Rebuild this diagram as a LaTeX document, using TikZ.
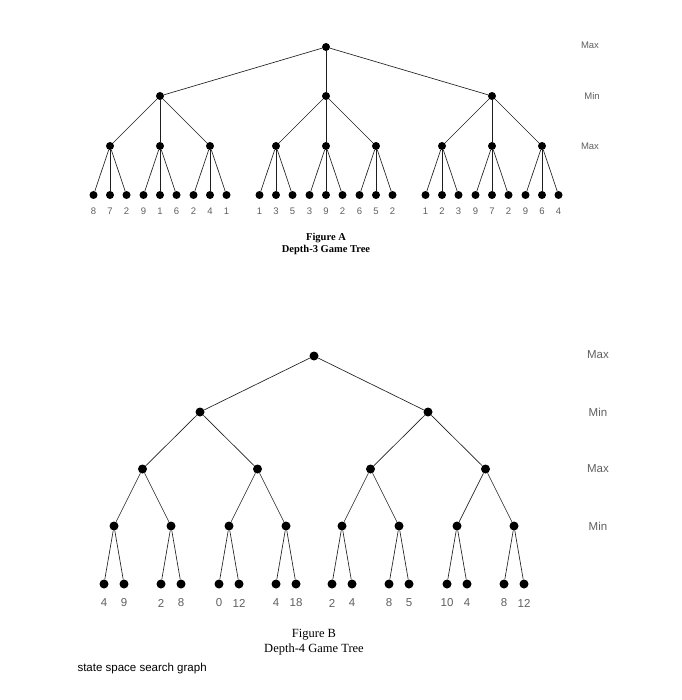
\documentclass[tikz,border=0pt]{standalone}
\usepackage{fontspec}
\setmainfont{Liberation Serif}
\setsansfont{Liberation Sans}
\usepackage{xcolor}
\usetikzlibrary{positioning}
\definecolor{LabelGray}{RGB}{95, 95, 95}
\definecolor{EdgeDark} {RGB}{30, 30, 30}
\tikzset{
  gamenode/.style={circle, fill=black, inner sep=0pt, minimum size=8pt},
  bignode/.style={circle, fill=black, inner sep=0pt, minimum size=9pt},
  gameedge/.style={draw=EdgeDark, line width=0.65pt},
  plylabel/.style={text=LabelGray, font=\sffamily\fontsize{9.5}{9.5}\selectfont},
  bigply/.style={text=LabelGray, font=\sffamily\fontsize{11.5}{11.5}\selectfont},
  scorelabel/.style={text=LabelGray, font=\sffamily\fontsize{9.5}{9.5}\selectfont},
  bigscore/.style={text=LabelGray, font=\sffamily\fontsize{11.5}{11.5}\selectfont},
  captionA/.style={font=\bfseries\fontsize{10.5}{12.5}\selectfont, align=center},
  captionB/.style={font=\fontsize{12.5}{15}\selectfont, align=center}
}
\begin{document}
\begin{tikzpicture}[x=1pt, y=-1pt]
  \useasboundingbox (0,0) rectangle (681,700);
  % Figure A
  \node[gamenode] (a) at (326,47) {};
  \foreach \i/\dx in {1/-166,2/0,3/166}{
    \node[gamenode] (a\i) at ([shift={(\dx,49)}]a) {};
    \draw[gameedge] (a) -- (a\i);
    \foreach \j/\ddx in {1/-50,2/0,3/50}{
      \node[gamenode] (a\i\j) at ([shift={(\ddx,50)}]a\i) {};
      \draw[gameedge] (a\i) -- (a\i\j);
    }
  }
  \foreach \p/\va/\vb/\vc in {a11/8/7/2, a12/9/1/6, a13/2/4/1,
                             a21/1/3/5, a22/3/9/2, a23/6/5/2,
                             a31/1/2/3, a32/9/7/2, a33/9/6/4}{
    \foreach \k/\dx/\v in {1/-16.5/\va, 2/0/\vb, 3/16.5/\vc}{
      \node[gamenode] (\p-\k) at ([shift={(\dx,49)}]\p) {};
      \draw[gameedge] (\p) -- (\p-\k);
      \node[scorelabel] at ([yshift=-16pt]\p-\k) {\v};
    }
  }
  \node[plylabel] (plyA1) at (590,45) {Max};
  \node[plylabel] (plyA2) at (592,96) {Min};
  \node[plylabel] (plyA3) at (590,146) {Max};
  \node[captionA] (capA) at (326,244) {Figure A\\Depth-3 Game Tree};
  % Figure B
  \node[bignode] (b) at (314,356) {};
  \foreach \i/\dx in {1/-114,2/114}{
    \node[bignode] (b\i) at ([shift={(\dx,56)}]b) {};
    \draw[gameedge] (b) -- (b\i);
    \foreach \j/\ddx in {1/-57.5,2/57.5}{
      \node[bignode] (b\i\j) at ([shift={(\ddx,57)}]b\i) {};
      \draw[gameedge] (b\i) -- (b\i\j);
      \foreach \k/\dddx in {1/-28.5,2/28.5}{
        \node[bignode] (b\i\j\k) at ([shift={(\dddx,57)}]b\i\j) {};
        \draw[gameedge] (b\i\j) -- (b\i\j\k);
      }
    }
  }
  \foreach \p/\va/\vb in {b111/4/9, b112/2/8, b121/0/12, b122/4/18,
                          b211/2/4, b212/8/5, b221/10/4, b222/8/12}{
    \foreach \k/\dx/\v in {1/-10/\va, 2/10/\vb}{
      \node[bignode] (\p-\k) at ([shift={(\dx,58)}]\p) {};
      \draw[gameedge] (\p) -- (\p-\k);
      \node[bigscore] at ([yshift=-19pt]\p-\k) {\v};
    }
  }
  \node[bigply] (plyB1) at (598,355) {Max};
  \node[bigply] (plyB2) at (598,412) {Min};
  \node[bigply] (plyB3) at (598,469) {Max};
  \node[bigply] (plyB4) at (598,526) {Min};
  \node[captionB] (capB) at (314,642) {Figure B\\Depth-4 Game Tree};
  \node[anchor=west, font=\sffamily\fontsize{11.5}{11.5}\selectfont] (footer) at (74,669) {state space search graph};
\end{tikzpicture}
\end{document}
